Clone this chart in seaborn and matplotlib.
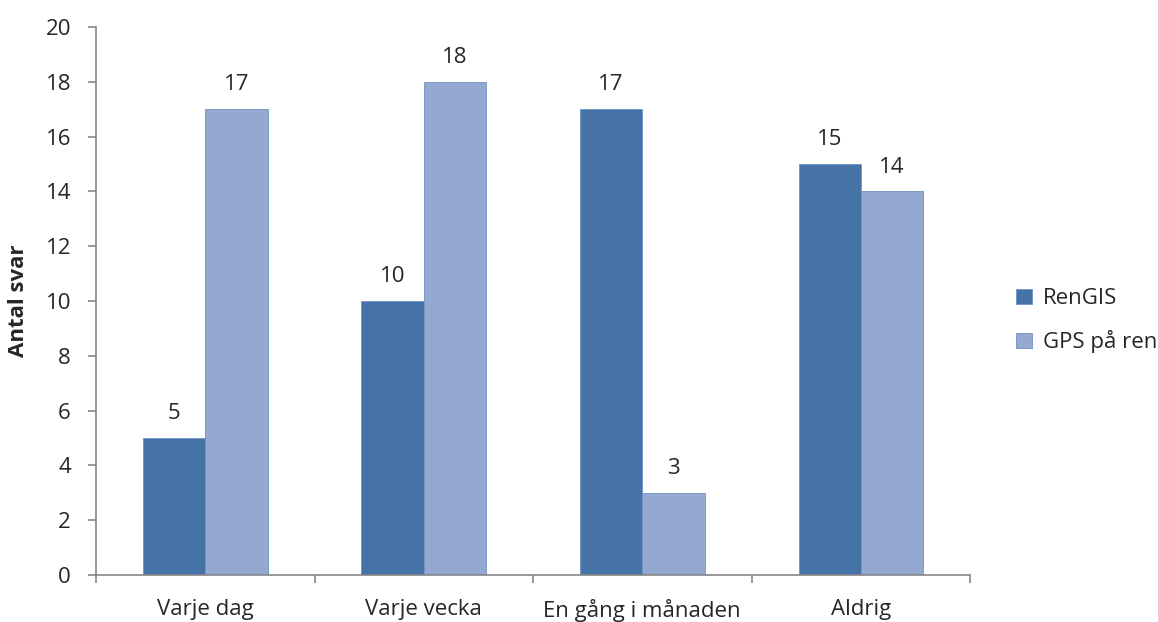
import matplotlib
matplotlib.use("Agg")
import numpy as np
import pandas as pd
import matplotlib.pyplot as plt
import seaborn as sns

# data
categories = ["Varje dag", "Varje vecka", "En gång i månaden", "Aldrig"]
rengis = [5, 10, 17, 15]
gps_pa_ren = [17, 18, 3, 14]
series_names = ["RenGIS", "GPS på ren"]

df = pd.DataFrame({
    "kategori": categories * 2,
    "serie": [series_names[0]] * 4 + [series_names[1]] * 4,
    "antal": rengis + gps_pa_ren,
})

sns.set_style("white")
plt.rcParams["font.family"] = ["Open Sans", "DejaVu Sans"]
fs = 16

fig = plt.figure(figsize=(11.58, 6.22), dpi=100)
ax = fig.add_axes([0.0829, 0.0756, 0.7548, 0.881])

palette = {"RenGIS": "#4572A7", "GPS på ren": "#95A9D0"}
sns.barplot(data=df, x="kategori", y="antal", hue="serie", palette=palette,
            width=0.57, saturation=1, ax=ax, edgecolor="#6F93C4", linewidth=0.6)

for cont in ax.containers:
    ax.bar_label(cont, fmt="%d", padding=10, fontsize=fs)

ax.set_ylim(0, 20)
ax.set_xlim(-0.5, 3.5)
ax.set_yticks(np.arange(0, 21, 2))
ax.tick_params(axis="y", labelsize=fs, length=6, width=1.2, color="#868686",
               direction="out", left=True, pad=12)
ax.set_xticks(np.arange(len(categories)))
ax.set_xticklabels(categories)
ax.tick_params(axis="x", which="major", length=0, labelsize=fs, pad=17)
ax.set_xticks(np.arange(-0.5, 4, 1), minor=True)
ax.tick_params(axis="x", which="minor", length=6, width=1.2, color="#868686",
               direction="out", bottom=True)

for s in ["top", "right"]:
    ax.spines[s].set_visible(False)
for s in ["left", "bottom"]:
    ax.spines[s].set_color("#868686")
    ax.spines[s].set_linewidth(1.2)

ax.set_xlabel("")
ax.set_ylabel("Antal svar", fontsize=fs, fontweight="bold", labelpad=12)

leg = ax.legend(loc="center left", bbox_to_anchor=(1.03, 0.464), frameon=False,
                fontsize=fs, handlelength=0.7, handleheight=0.7,
                handletextpad=0.5, labelspacing=0.95)

fig.savefig("out.png", dpi=100)
